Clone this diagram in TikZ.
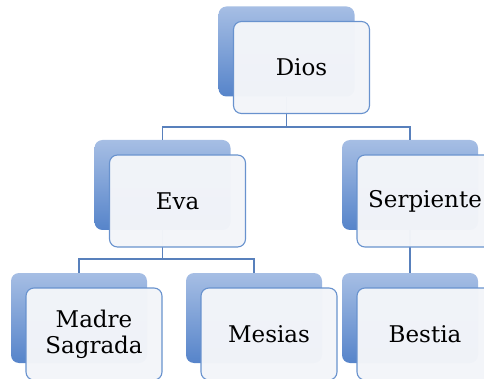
\documentclass[tikz,border=0pt]{standalone}
\usepackage{fontspec}
\setmainfont{DejaVu Serif}
\begin{document}
\definecolor{backtop}{RGB}{166,190,228}
\definecolor{backbot}{RGB}{86,132,202}
\definecolor{frontline}{RGB}{104,146,206}
\definecolor{frontfill}{RGB}{243,245,249}
\definecolor{linkcol}{RGB}{88,128,188}
\begin{tikzpicture}[x=1pt,y=-1pt,
  backbox/.style={rectangle, rounded corners=8pt, minimum width=136pt, minimum height=90pt,
    inner sep=0pt, top color=backtop, bottom color=backbot, draw=none},
  frontbox/.style={rectangle, rounded corners=8pt, minimum width=136pt, minimum height=92pt,
    inner sep=0pt, draw=frontline, line width=1.1pt, fill=frontfill, fill opacity=0.975,
    text opacity=1, font=\fontsize{23}{26}\selectfont, align=center},
  link/.style={draw=linkcol, line width=1.1pt}]
\useasboundingbox (0,0) rectangle (484,379);
\clip (0,0) rectangle (484,379);
% back panels
\node[backbox] (dB) at (286.5,51.5) {};
\node[backbox] (eB) at (162.5,185) {};
\node[backbox] (sB) at (410,185) {};
\node[backbox] (mB) at (79,318) {};
\node[backbox] (meB) at (254,318) {};
\node[backbox] (bB) at (410,318) {};
% bus levels
\coordinate (bus1) at (287,127);
\coordinate (bus2) at (162,259);
% connectors
\draw[link] (dB.south) |- (eB.north |- bus1) -- (eB.north);
\draw[link] (dB.south |- bus1) -| (sB.north);
\draw[link] (eB.south) |- (mB.north |- bus2) -- (mB.north);
\draw[link] (eB.south |- bus2) -| (meB.north);
\draw[link] (sB.south) -- (bB.north);
% front panels with labels
\node[frontbox] (dF) at (301.5,67.5) {Dios};
\node[frontbox] (eF) at (177.5,201) {Eva};
\node[frontbox] (sF) at (425,201) {Serpiente};
\node[frontbox] (mF) at (94,334) {Madre\\Sagrada};
\node[frontbox] (meF) at (269,334) {Mesias};
\node[frontbox] (bF) at (425,334) {Bestia};
\end{tikzpicture}
\end{document}
